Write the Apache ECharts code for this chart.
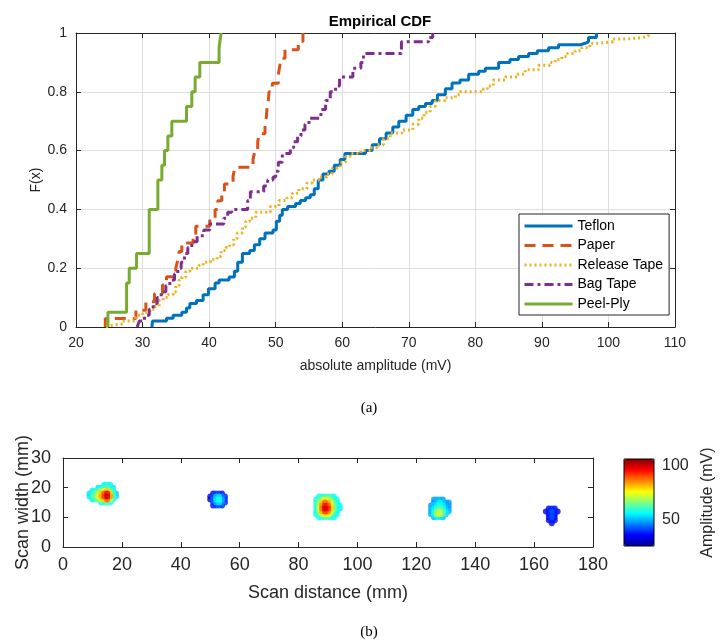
<!DOCTYPE html>
<html>
<head>
<meta charset="utf-8">
<script src="https://cdn.jsdelivr.net/npm/echarts@6/dist/echarts.min.js"></script>
<style>
    html, body { margin: 0; padding: 0; background: #fff; }
    #main { width: 728px; height: 644px; }
</style>
</head>
<body>
<div id="main"></div>
<script>
    'use strict';

    // ---- (a) empirical CDF, [amplitude mV, F(x)] step points
    var seriesNames = ['Teflon', 'Paper', 'Release Tape', 'Bag Tape', 'Peel-Ply'];
    var seriesColors = ['#0072BD', '#D95319', '#EDB120', '#7E2F8E', '#77AC30'];

    var teflon = [[31.4,0],[31.5,0.02],[33.6,0.03],[34.6,0.04],[35.9,0.05],[36.6,0.065],[37.1,0.08],[38.1,0.09],
        [39.1,0.11],[39.9,0.13],[40.9,0.15],[41.5,0.16],[43.0,0.17],[43.8,0.19],[44.3,0.22],[45.0,0.25],[46.1,0.26],
        [46.8,0.28],[47.6,0.3],[48.4,0.32],[49.6,0.33],[50.1,0.36],[50.6,0.38],[51.0,0.4],[51.8,0.41],[53.0,0.42],
        [53.7,0.43],[54.5,0.44],[55.2,0.45],[55.8,0.47],[56.4,0.5],[57.1,0.52],[58.0,0.53],[58.8,0.55],[59.7,0.57],
        [60.4,0.59],[63.5,0.6],[64.5,0.62],[65.6,0.64],[66.6,0.66],[67.6,0.68],[68.5,0.7],[69.6,0.72],[70.6,0.74],
        [71.5,0.75],[72.5,0.76],[73.5,0.77],[74.3,0.79],[75.5,0.81],[76.5,0.83],[77.7,0.84],[79.0,0.86],[80.5,0.87],
        [81.5,0.88],[83.5,0.9],[85.2,0.91],[86.5,0.92],[88.0,0.93],[89.3,0.94],[91.0,0.95],[92.5,0.96],[95.8,0.965],
        [96.5,0.97],[97.0,0.985],[98.2,1]];

    var paper = [[24.4,0],[24.4,0.029],[29.0,0.057],[30.5,0.086],[31.8,0.114],[33.0,0.143],[33.6,0.171],[35.0,0.2],
        [35.3,0.229],[35.5,0.257],[35.9,0.286],[37.6,0.314],[38.0,0.343],[40.1,0.371],[40.9,0.4],[41.3,0.429],
        [41.9,0.457],[42.3,0.486],[43.6,0.514],[43.9,0.543],[46.6,0.571],[46.9,0.6],[47.3,0.629],[47.5,0.657],
        [48.4,0.686],[48.6,0.714],[48.7,0.743],[48.9,0.771],[49.0,0.8],[49.5,0.829],[50.4,0.857],[50.6,0.886],
        [50.8,0.914],[51.4,0.943],[53.4,0.971],[54.1,1]];

    var releaseTape = [[24.5,0],[24.7,0.005],[25.1,0.01],[26.9,0.02],[28.9,0.03],[29.2,0.04],[30.0,0.05],[31.1,0.06],
        [31.8,0.07],[32.5,0.09],[33.1,0.1],[33.8,0.11],[34.6,0.12],[35.0,0.14],[35.5,0.16],[35.9,0.17],[36.5,0.19],
        [37.1,0.2],[38.5,0.21],[39.1,0.22],[40.2,0.23],[41.2,0.24],[41.8,0.26],[42.5,0.27],[43.1,0.28],[43.7,0.3],
        [44.2,0.32],[45.0,0.34],[45.5,0.36],[46.1,0.37],[47.0,0.39],[49.2,0.41],[50.5,0.43],[51.7,0.44],[52.5,0.455],
        [53.5,0.47],[54.7,0.49],[55.5,0.5],[56.5,0.51],[57.7,0.52],[58.5,0.54],[59.7,0.56],[60.5,0.58],[61.2,0.59],
        [62.8,0.6],[64.2,0.61],[65.2,0.62],[66.2,0.64],[67.2,0.66],[69.0,0.67],[70.6,0.69],[71.5,0.71],[72.3,0.73],
        [73.2,0.75],[74.0,0.77],[75.5,0.78],[77.0,0.79],[77.7,0.8],[81.2,0.81],[81.8,0.82],[82.7,0.84],[84.5,0.85],
        [86.3,0.86],[87.5,0.875],[89.5,0.89],[91.2,0.9],[92.0,0.91],[93.0,0.92],[93.8,0.93],[95.0,0.94],[96.0,0.95],
        [97.2,0.965],[98.5,0.97],[100.7,0.98],[103.0,0.985],[105.2,0.99],[106.0,1]];

    var bagTape = [[29.2,0],[29.5,0.02],[30.3,0.04],[31.0,0.06],[31.6,0.08],[32.2,0.1],[32.8,0.12],[33.5,0.14],
        [34.1,0.16],[34.8,0.18],[35.3,0.2],[35.8,0.22],[36.3,0.25],[36.8,0.27],[37.4,0.29],[38.2,0.31],[39.2,0.33],
        [40.1,0.35],[42.2,0.37],[42.8,0.39],[43.4,0.4],[45.8,0.43],[46.2,0.46],[48.2,0.48],[48.8,0.5],[49.6,0.51],
        [50.0,0.53],[50.4,0.56],[51.0,0.59],[52.2,0.61],[52.7,0.63],[53.3,0.65],[53.8,0.67],[54.4,0.69],[55.0,0.71],
        [56.8,0.74],[57.5,0.77],[58.2,0.8],[59.0,0.82],[59.6,0.85],[61.6,0.88],[62.8,0.9],[63.2,0.93],[68.9,0.97],
        [73.0,0.985],[73.6,1]];

    var peelPly = [[24.8,0],[24.8,0.05],[27.6,0.15],[28.0,0.2],[29.1,0.25],[31.0,0.4],[32.3,0.5],[32.9,0.55],
        [33.3,0.6],[33.8,0.65],[34.4,0.7],[36.6,0.75],[37.4,0.8],[37.9,0.85],[38.6,0.9],[41.5,0.95],[41.8,1]];

    var cdfData = [teflon, paper, releaseTape, bagTape, peelPly];
    var dashTypes = ['solid', [11, 7], [2, 3], [9, 4, 3, 4], 'solid'];

    // ---- (b) C-scan spots: rows of [scan width mm, first scan distance mm, amplitudes mV at 1 mm steps]
    var spot1 = [
        [21, 14, [55, 57, 55]],
        [20, 12, [54, 57, 60, 62, 58, 54]],
        [19, 10, [55, 58, 62, 68, 76, 80, 66, 57]],
        [18, 9, [54, 58, 64, 72, 80, 90, 98, 80, 60, 52]],
        [17, 9, [54, 60, 66, 74, 82, 92, 100, 84, 62, 54]],
        [16, 10, [55, 60, 64, 72, 80, 88, 72, 57]],
        [15, 13, [56, 60, 62, 56]]
    ];
    var spot2 = [
        [18, 51, [36, 40, 40, 36]],
        [17, 50, [34, 42, 52, 54, 46, 38]],
        [16, 50, [27, 44, 54, 58, 50, 40]],
        [15, 51, [40, 50, 54, 48, 38]],
        [14, 51, [36, 40, 42, 38]]
    ];
    var spot3 = [
        [17, 87, [56, 58, 60, 60, 58, 56]],
        [16, 86, [56, 62, 70, 75, 72, 65, 58, 56]],
        [15, 86, [58, 68, 80, 88, 82, 72, 62, 56]],
        [14, 86, [58, 70, 85, 95, 90, 78, 65, 58, 56]],
        [13, 86, [58, 72, 88, 100, 94, 80, 66, 58, 55]],
        [12, 86, [56, 68, 82, 92, 86, 74, 62, 56]],
        [11, 86, [56, 62, 72, 78, 75, 66, 58, 56]],
        [10, 87, [56, 58, 62, 62, 58, 56]]
    ];
    var spot4 = [
        [16, 126, [48, 50, 50, 48]],
        [15, 126, [48, 52, 55, 52, 48, 48]],
        [14, 125, [48, 52, 55, 58, 55, 50, 48]],
        [13, 125, [50, 55, 60, 62, 58, 52, 48]],
        [12, 125, [50, 58, 68, 70, 62, 55, 50]],
        [11, 125, [50, 58, 70, 72, 62, 52]],
        [10, 126, [50, 55, 55, 50]]
    ];
    var spot5 = [
        [13, 165, [35, 38, 35]],
        [12, 164, [33, 38, 42, 38, 33]],
        [11, 165, [36, 40, 36]],
        [10, 165, [36, 42, 36]],
        [9, 165, [34, 38, 34]],
        [8, 166, [33]]
    ];
    var spots = [spot1, spot2, spot3, spot4, spot5];
    var ampRange = [26, 106];
    var ampTicks = [50, 100];

    var jet = ['#00008f', '#0000ff', '#0080ff', '#00ffff', '#80ff80', '#ffff00', '#ff8000', '#ff0000', '#800000'];

    var scanPoints = [];
    spots.forEach(function (spot) {
        spot.forEach(function (row) {
            row[2].forEach(function (amp, i) {
                scanPoints.push([row[1] + i, row[0], amp]);
            });
        });
    });
    scanPoints.sort(function (a, b) { return a[2] - b[2]; });   //高值画在上面

    var font = 'Liberation Sans, Arial, sans-serif';
    var ink = '#262626';

    function boxAxis(extra) {
        var base = {
            axisLine: { show: true, onZero: false, lineStyle: { color: ink, width: 1 } },
            axisTick: { show: true, inside: true, length: 5, lineStyle: { color: ink } },
            axisLabel: { show: false },
            splitLine: { show: false },
            nameMoveOverlap: false
        };
        return Object.assign(base, extra);
    }

    var cdfSeries = seriesNames.map(function (name, i) {
        return {
            name: name,
            type: 'line',
            step: 'end',
            xAxisIndex: 0,
            yAxisIndex: 0,
            symbol: 'none',
            showSymbol: false,
            data: cdfData[i],
            lineStyle: { color: seriesColors[i], width: 3, type: dashTypes[i], cap: 'butt' },
            itemStyle: { color: seriesColors[i] },
            z: 3 + i
        };
    });

    var myChart = echarts.init(document.getElementById('main'));
    var option = {
        backgroundColor: '#fff',
        animation: false,
        title: [
            { text: 'Empirical CDF', left: 375, top: 9, textAlign: 'center',
              textStyle: { fontFamily: font, fontSize: 15, fontWeight: 'bold', color: '#000' } },
            { text: '(a)', left: 364, top: 396, textAlign: 'center',
              textStyle: { fontFamily: 'Liberation Serif, serif', fontSize: 15, fontWeight: 'normal', color: '#000' } },
            { text: '(b)', left: 364, top: 620, textAlign: 'center',
              textStyle: { fontFamily: 'Liberation Serif, serif', fontSize: 15, fontWeight: 'normal', color: '#000' } }
        ],
        legend: {
            data: seriesNames,
            orient: 'vertical',
            left: 519,
            top: 214,
            padding: [5, 6, 4, 4],
            itemWidth: 48,
            itemHeight: 14,
            itemGap: 5.5,
            itemStyle: { opacity: 0 },
            lineStyle: { width: 3 },
            backgroundColor: '#fff',
            borderColor: ink,
            borderWidth: 1,
            textStyle: { fontFamily: font, fontSize: 14, color: '#000' }
        },
        grid: [
            { left: 76, top: 33, width: 599, height: 294 },
            { left: 63, top: 458, width: 530, height: 89 },
            { left: 624, top: 459, width: 30, height: 87, show: true, z: 10,
              backgroundColor: 'transparent', borderColor: '#000', borderWidth: 1 }
        ],
        xAxis: [
            boxAxis({ type: 'value', gridIndex: 0, position: 'bottom', min: 20, max: 110, interval: 10,
                axisLabel: { show: true, margin: 9, fontFamily: font, fontSize: 14, color: ink },
                splitLine: { show: true, lineStyle: { color: '#dedede' } },
                name: 'absolute amplitude (mV)', nameLocation: 'middle', nameGap: 32,
                nameTextStyle: { fontFamily: font, fontSize: 14, color: ink } }),
            boxAxis({ type: 'value', gridIndex: 0, position: 'top', min: 20, max: 110, interval: 10 }),
            boxAxis({ type: 'value', gridIndex: 1, position: 'bottom', min: 0, max: 180, interval: 20,
                axisLabel: { show: true, margin: 9, fontFamily: font, fontSize: 18, color: ink },
                name: 'Scan distance (mm)', nameLocation: 'middle', nameGap: 37,
                nameTextStyle: { fontFamily: font, fontSize: 18, color: ink } }),
            boxAxis({ type: 'value', gridIndex: 1, position: 'top', min: 0, max: 180, interval: 20 }),
            { type: 'value', gridIndex: 2, show: false, min: 0, max: 1 }
        ],
        yAxis: [
            boxAxis({ type: 'value', gridIndex: 0, position: 'left', min: 0, max: 1, interval: 0.2,
                axisLabel: { show: true, margin: 9, fontFamily: font, fontSize: 14, color: ink },
                splitLine: { show: true, lineStyle: { color: '#dedede' } },
                name: 'F(x)', nameLocation: 'middle', nameGap: 33, nameRotate: 90,
                nameTextStyle: { fontFamily: font, fontSize: 14, color: ink } }),
            boxAxis({ type: 'value', gridIndex: 0, position: 'right', min: 0, max: 1, interval: 0.2 }),
            boxAxis({ type: 'value', gridIndex: 1, position: 'left', min: 0, max: 30, interval: 10,
                axisLabel: { show: true, margin: 12, fontFamily: font, fontSize: 18, color: ink },
                name: 'Scan width (mm)', nameLocation: 'middle', nameGap: 31, nameRotate: 90,
                nameTextStyle: { fontFamily: font, fontSize: 18, color: ink } }),
            boxAxis({ type: 'value', gridIndex: 1, position: 'right', min: 0, max: 30, interval: 10 }),
            { type: 'value', gridIndex: 2, position: 'right', min: ampRange[0], max: ampRange[1],
                axisLine: { show: false }, axisTick: { show: false }, splitLine: { show: false },
                axisLabel: { show: true, customValues: ampTicks, margin: 8, fontFamily: font, fontSize: 16, color: ink },
                name: 'Amplitude (mV)', nameLocation: 'middle', nameGap: 46, nameRotate: 90,
                nameMoveOverlap: false,
                nameTextStyle: { fontFamily: font, fontSize: 16, color: ink } }
        ],
        visualMap: {
            type: 'continuous',
            seriesIndex: 5,
            dimension: 2,
            min: ampRange[0],
            max: ampRange[1],
            calculable: false,
            orient: 'vertical',
            left: 624,
            top: 459,
            itemWidth: 30,
            itemHeight: 87,
            padding: 0,
            inRange: { color: jet }
        },
        series: cdfSeries.concat([{
            name: 'scan',
            type: 'scatter',
            xAxisIndex: 2,
            yAxisIndex: 2,
            symbol: 'circle',
            symbolSize: 6,
            data: scanPoints,
            z: 3
        }])
    };
    myChart.setOption(option);
    window.addEventListener('resize', function () {
        myChart.resize();
    });
</script>
</body>
</html>
